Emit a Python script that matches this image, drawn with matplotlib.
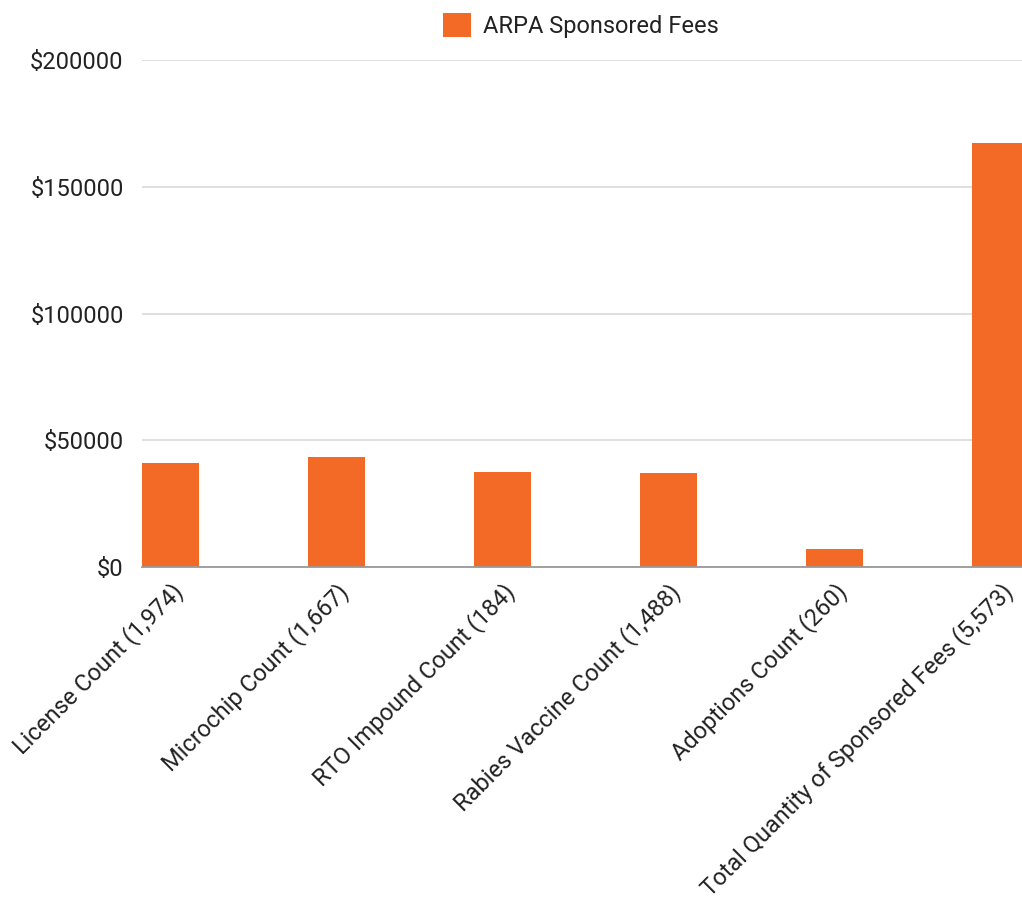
import matplotlib
matplotlib.use('Agg')
import matplotlib.pyplot as plt
from matplotlib.ticker import FuncFormatter

plt.rcParams['font.family'] = ['Roboto', 'DejaVu Sans']

# Chart data
categories = ['License Count (1,974)', 'Microchip Count (1,667)', 'RTO Impound Count (184)',
              'Rabies Vaccine Count (1,488)', 'Adoptions Count (260)',
              'Total Quantity of Sponsored Fees (5,573)']
fees = [40900, 43300, 37500, 37200, 7000, 167100]
series_name = 'ARPA Sponsored Fees'
y_ticks = [0, 50000, 100000, 150000, 200000]

orange = '#f26a25'
text_color = '#222222'

fig = plt.figure(figsize=(10.22, 9.01), dpi=100)
ax = fig.add_axes([0.1387, 0.3707, 1 - 0.1387, 0.9334 - 0.3707])

x = list(range(len(categories)))
ax.bar(x, fees, width=0.346, color=orange, label=series_name, zorder=3)

ax.set_xlim(-0.173, 5.13)
ax.set_ylim(0, 200000)
ax.set_yticks(y_ticks)
ax.yaxis.set_major_formatter(FuncFormatter(lambda v, p: '$%d' % v))
ax.grid(axis='y', color='#d9d9d9', linewidth=1.2, zorder=0)

for side in ['top', 'right', 'left']:
    ax.spines[side].set_visible(False)
ax.spines['bottom'].set_color('#999999')
ax.spines['bottom'].set_linewidth(1.3)
ax.spines['bottom'].set_zorder(4)

ax.tick_params(axis='both', length=0, labelsize=17, labelcolor=text_color)
ax.tick_params(axis='y', pad=13)
ax.tick_params(axis='x', pad=9)
ax.set_xticks(x)
ax.set_xticklabels(categories, rotation=45, ha='right', va='top', rotation_mode='anchor')

ax.legend(loc='center', bbox_to_anchor=(0.5685, 0.972), bbox_transform=fig.transFigure,
          frameon=False, fontsize=17, handlelength=1.2, handleheight=1.2,
          handletextpad=0.5, labelcolor=text_color)

fig.savefig('out.png', dpi=100)
